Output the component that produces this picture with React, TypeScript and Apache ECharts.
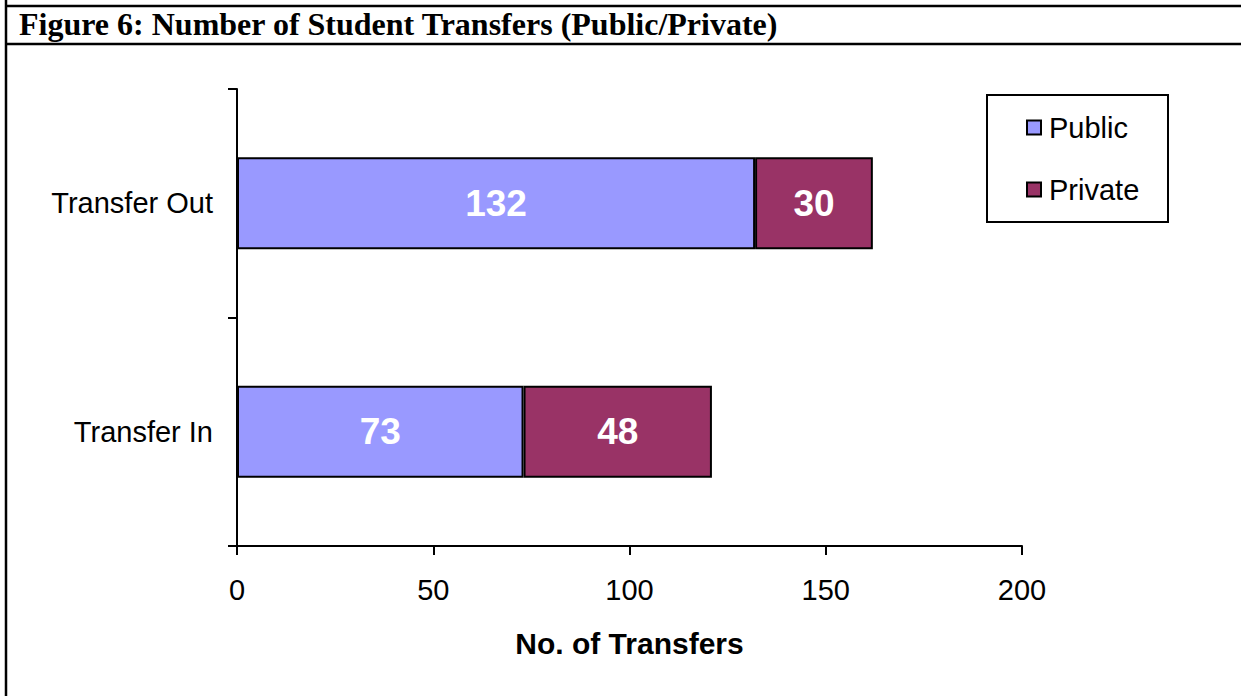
import React, { useEffect, useRef } from "react";
import * as echarts from "echarts";

const categories = ["Transfer In", "Transfer Out"];
const publicValues = [73, 132];
const privateValues = [48, 30];
const seriesNames = ["Public", "Private"];
const xTicks = [0, 50, 100, 150, 200];
const titleText = "Figure 6: Number of Student Transfers (Public/Private)";
const xAxisName = "No. of Transfers";

const SANS = "Liberation Sans, Arial, sans-serif";

export default function App() {
  const ref = useRef<HTMLDivElement>(null);
  useEffect(() => {
    if (!ref.current) return;
    const chart = echarts.init(ref.current, undefined, { renderer: "svg" });
    const labelStyle = {
      show: true,
      position: "inside",
      color: "#ffffff",
      fontWeight: "bold",
      fontSize: 37,
      fontFamily: SANS,
    };
    chart.setOption({
      animation: false,
      backgroundColor: "#ffffff",
      title: {
        text: titleText,
        left: 14,
        top: 3,
        textStyle: {
          fontFamily: "Liberation Serif, Times New Roman, serif",
          fontWeight: "bold",
          fontSize: 32,
          color: "#000",
        },
      },
      graphic: [
        { type: "line", shape: { x1: 6, y1: 0, x2: 6, y2: 696 }, style: { stroke: "#000", lineWidth: 2.5 } },
        { type: "line", shape: { x1: 6, y1: 6, x2: 1241, y2: 6 }, style: { stroke: "#000", lineWidth: 2.5 } },
        { type: "line", shape: { x1: 6, y1: 44, x2: 1241, y2: 44 }, style: { stroke: "#000", lineWidth: 2.5 } },
        { type: "rect", shape: { x: 987, y: 95, width: 181, height: 127 }, style: { fill: "#fff", stroke: "#000", lineWidth: 2 }, z: 1 },
      ],
      legend: {
        orient: "vertical",
        left: 1021,
        top: 108,
        itemGap: 33,
        itemWidth: 14,
        itemHeight: 14,
        icon: "rect",
        z: 10,
        textStyle: {
          fontFamily: SANS,
          fontSize: 29,
          color: "#000",
          padding: [0, 0, 0, 3],
        },
        itemStyle: { borderColor: "#000", borderWidth: 2 },
        data: seriesNames,
      },
      grid: { left: 237, top: 89, width: 785, height: 457, containLabel: false },
      xAxis: {
        type: "value",
        min: xTicks[0],
        max: xTicks[xTicks.length - 1],
        interval: 50,
        name: xAxisName,
        nameLocation: "middle",
        nameGap: 82,
        nameTextStyle: {
          fontFamily: SANS,
          fontWeight: "bold",
          fontSize: 30,
          color: "#000",
        },
        axisLine: { show: true, lineStyle: { color: "#000", width: 2 } },
        axisTick: { show: true, length: 9, lineStyle: { color: "#000", width: 2 } },
        splitLine: { show: false },
        axisLabel: {
          margin: 29,
          fontFamily: SANS,
          fontSize: 29,
          color: "#000",
        },
      },
      yAxis: {
        type: "category",
        data: categories,
        axisLine: { show: true, lineStyle: { color: "#000", width: 2 } },
        axisTick: { show: true, length: 9, lineStyle: { color: "#000", width: 2 } },
        axisLabel: {
          margin: 24,
          fontFamily: SANS,
          fontSize: 29,
          color: "#000",
        },
      },
      series: [
        {
          name: seriesNames[0],
          type: "bar",
          stack: "total",
          barWidth: 92,
          data: publicValues,
          itemStyle: { color: "#9999FF", borderColor: "#000", borderWidth: 2 },
          label: labelStyle,
        },
        {
          name: seriesNames[1],
          type: "bar",
          stack: "total",
          barWidth: 92,
          data: privateValues,
          itemStyle: { color: "#993366", borderColor: "#000", borderWidth: 2 },
          label: labelStyle,
        },
      ],
    });
    return () => chart.dispose();
  }, []);
  return (
    <div
      ref={ref}
      style={{ position: "fixed", left: 0, top: 0, width: 1241, height: 696 }}
    />
  );
}
